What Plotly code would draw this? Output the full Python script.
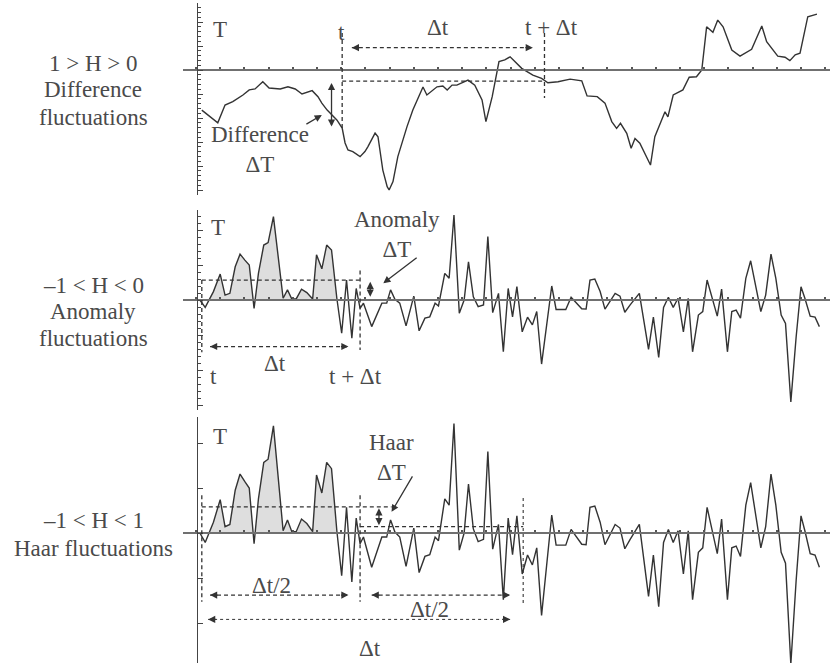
import numpy as np
import plotly.graph_objects as go

# ---------------- data ----------------
# Panel 1: difference fluctuations (time, T)
diff_t = [1.2, 4.5, 6.0, 7.6, 9.7, 11.0, 12.2, 13.8, 15.1, 17.4, 19.0, 20.5, 21.9, 24.0, 25.2,
          26.0, 27.1, 29.1, 30.2, 30.8, 31.4, 32.4, 33.9, 34.9, 35.5, 37.0, 37.6, 38.6, 39.5, 39.9,
          40.7, 41.7, 43.6, 44.8, 46.9, 47.7, 49.8, 51.0, 51.9, 52.9, 53.9, 56.2, 57.6, 59.1, 59.9,
          61.2, 62.6, 63.8, 64.9, 67.3, 69.6, 71.4, 72.7, 74.8, 77.3, 79.7, 80.8, 82.9, 84.5, 85.9,
          86.9, 87.7, 89.0, 89.9, 90.7, 91.7, 93.9, 94.8, 96.9, 97.5, 98.6, 100.6, 101.9, 103.4, 104.5,
          105.5, 106.8, 107.8, 108.9, 110.7, 112.4, 113.8, 114.8, 116.9, 117.9, 120.2, 121.7, 122.7, 123.8, 124.8,
          125.8, 126.4, 128.3]
diff_T = [-1.67, -2.20, -1.46, -1.32, -1.04, -0.83, -0.79, -0.49, -0.75, -0.79, -0.70, -0.79, -1.00, -0.86, -1.11,
          -1.38, -1.67, -2.08, -2.42, -3.04, -3.33, -3.40, -3.61, -3.40, -3.20, -2.63, -2.78, -4.17, -4.86, -5.00,
          -4.65, -3.61, -2.36, -1.67, -0.71, -1.04, -0.70, -0.67, -0.83, -0.63, -0.63, -0.42, -0.63, -1.25, -2.15,
          -1.11, 0.35, 0.42, 0.55, 0.07, -0.21, -0.35, -0.53, -0.49, -0.38, -0.45, -1.08, -1.11, -1.38, -2.15,
          -2.43, -2.22, -2.64, -3.26, -2.85, -3.05, -3.96, -2.78, -1.74, -1.95, -1.04, -0.83, -0.30, -0.28, 0.00,
          1.80, 1.57, 2.08, 1.80, 0.83, 0.58, 0.76, 0.86, 1.83, 1.18, 0.58, 0.53, 0.39, 0.63, 0.70,
          1.74, 2.22, 2.33]

# Panels 2 and 3: anomaly series (same series, drawn at two vertical scales)
anom_t = [0.8, 1.9, 3.6, 5.0, 6.0, 7.0, 8.1, 9.1, 10.1, 11.0, 12.0, 12.9, 14.0, 14.9, 16.0,
          16.8, 18.0, 18.9, 19.8, 20.7, 21.8, 22.9, 24.1, 24.9, 26.0, 27.0, 28.0, 29.1, 30.1, 31.1,
          32.2, 33.1, 33.9, 34.6, 36.3, 38.4, 39.4, 40.2, 41.1, 42.1, 43.4, 45.0, 46.1, 47.3, 48.3,
          49.4, 50.1, 51.4, 52.3, 53.3, 54.4, 55.4, 56.3, 57.3, 58.3, 59.4, 60.3, 61.3, 62.5, 63.5,
          64.5, 65.4, 66.3, 67.4, 68.5, 69.5, 70.4, 71.4, 73.5, 74.4, 76.4, 77.5, 79.7, 80.6, 81.4,
          82.4, 83.5, 84.5, 85.5, 86.6, 87.6, 88.6, 89.7, 91.6, 93.5, 94.5, 95.6, 96.6, 97.6, 98.6,
          99.6, 100.7, 101.7, 102.6, 103.8, 104.7, 105.6, 107.7, 108.6, 109.8, 110.7, 111.6, 112.5, 113.6, 114.6,
          116.7, 117.7, 118.8, 119.8, 120.9, 121.8, 122.9, 124.0, 125.0, 125.8, 126.9, 127.9, 128.8]
anom_T = [0.00, -0.21, 0.24, 0.74, 0.14, 0.19, 0.95, 1.31, 1.14, 1.00, -0.24, 0.76, 1.57, 1.64, 2.38,
          1.43, 0.05, 0.29, 0.03, 0.03, 0.31, 0.21, 0.03, 1.29, 0.89, 1.57, 1.43, 0.05, -0.95, 0.57,
          -1.09, 0.33, -0.24, -0.09, -0.76, -0.09, -0.09, 0.29, 0.02, -0.09, -0.74, 0.11, -0.88, -0.52, -0.48,
          -0.09, -0.17, 0.76, 0.62, 2.43, -0.38, 0.00, 1.09, 0.09, -0.19, -0.14, 1.81, -0.36, 0.19, -1.48,
          0.33, -0.48, 0.38, -0.91, -0.49, -0.71, -0.33, -1.83, 0.40, -0.27, -0.27, 0.08, -0.25, -0.26, 0.57,
          0.60, 0.24, -0.26, -0.05, 0.19, 0.11, -0.35, -0.14, 0.19, -1.41, -0.49, -1.64, -0.21, 0.08, -0.21,
          0.05, -0.91, 0.05, -1.48, -0.43, -0.33, 0.57, -0.46, 0.31, -1.48, -0.33, -0.29, -0.52, 0.62, 1.12,
          -0.33, 0.14, 1.31, 0.62, -0.43, -0.67, -2.91, -1.05, 0.38, 0.05, -0.46, -0.49, -0.76]

# Schematic markers (times and levels)
t_start = 1.2            # t (anomaly / Haar)
t_mid = 33.9             # t + Δt (anomaly), t + Δt/2 (Haar)
t_end_haar = 67.6        # t + Δt (Haar)
diff_t0, diff_t1 = 30.2, 72.0      # t and t + Δt (difference)
diff_level_t1 = -0.46              # T(t + Δt)
anom_mean = 0.57                   # mean over [t, t+Δt]
haar_mean1, haar_mean2 = 0.58, 0.14
shade_end = 29.1

left_labels = [["1 > H > 0", "Difference", "fluctuations"],
               ["–1 < H < 0", "Anomaly", "fluctuations"],
               ["–1 < H < 1", "Haar fluctuations"]]

# ---------------- layout constants ----------------
W, H = 830, 663
X0_PX, YAX_PX, T0_PX, DT_PX = 183, 196.7, 196.0, 4.84
# (zero line px, axis top px, axis bottom px, px per unit T, minor ticks)
PANELS = [(70, 3, 195, 24.0, True), (300, 210, 410, 35.0, True), (533, 417, 663, 45.0, False)]
LINE = "#333333"
TXT = "#4a4a4a"
FONT = dict(family="Liberation Serif, Times New Roman, serif", size=23, color=TXT)
DASH = "4px,3px"

fig = go.Figure()
layout = dict(width=W, height=H, margin=dict(l=0, r=0, t=0, b=0),
              paper_bgcolor="white", plot_bgcolor="white", showlegend=False)

xr = [(X0_PX - T0_PX) / DT_PX, (W - T0_PX) / DT_PX]
for i, (z, top, bot, sc, minor) in enumerate(PANELS):
    sfx = "" if i == 0 else str(i + 1)
    ya = dict(domain=[1 - bot / H, 1 - top / H], range=[(z - bot) / sc, (z - top) / sc],
              anchor="free", position=YAX_PX / W, showline=True, linecolor="#444", linewidth=1.3,
              ticks="inside", ticklen=5, tickwidth=1, tickcolor="#444", dtick=1, tick0=0,
              showticklabels=False, showgrid=False, zeroline=False, fixedrange=True)
    if minor:
        ya["minor"] = dict(ticks="inside", ticklen=3, dtick=0.2, tick0=0, tickcolor="#444", tickwidth=1)
    xa = dict(domain=[X0_PX / W, 1], range=xr, anchor="free", position=1 - z / H,
              showline=True, linecolor="#707070", linewidth=1.6, ticks="inside", ticklen=2,
              tickwidth=1.5, tickcolor="#555", dtick=5, tick0=0, showticklabels=False,
              showgrid=False, zeroline=False, fixedrange=True)
    layout["xaxis" + sfx] = xa
    layout["yaxis" + sfx] = ya


def positive_part(t, v, t_stop):
    xs, ys = [], []
    for i in range(len(t) - 1):
        if t[i] > t_stop:
            break
        x0, y0, x1, y1 = t[i], v[i], t[i + 1], v[i + 1]
        xs.append(x0)
        ys.append(max(y0, 0.0))
        if (y0 > 0) != (y1 > 0) and y0 != y1:
            xs.append(x0 + (0 - y0) * (x1 - x0) / (y1 - y0))
            ys.append(0.0)
    return xs, ys


fx, fy = positive_part(anom_t, anom_T, shade_end)

# traces
fig.add_trace(go.Scatter(x=diff_t, y=diff_T, mode="lines", line=dict(color=LINE, width=1.4),
                         xaxis="x", yaxis="y", hoverinfo="skip"))
for k in (2, 3):
    fig.add_trace(go.Scatter(x=fx, y=fy, mode="lines", line=dict(width=0), fill="tozeroy",
                             fillcolor="#dedede", xaxis=f"x{k}", yaxis=f"y{k}", hoverinfo="skip"))
    fig.add_trace(go.Scatter(x=anom_t, y=anom_T, mode="lines", line=dict(color=LINE, width=1.4),
                             xaxis=f"x{k}", yaxis=f"y{k}", hoverinfo="skip"))

shapes, annots = [], []


def dline(ax, x0, y0, x1, y1, dash=DASH, width=1.3):
    s = "" if ax == 1 else str(ax)
    shapes.append(dict(type="line", xref="x" + s, yref="y" + s, x0=x0, y0=y0, x1=x1, y1=y1,
                       line=dict(color=LINE, width=width, dash=dash)))


def text(ax, x, y, s):
    a = "" if ax == 1 else str(ax)
    annots.append(dict(xref="x" + a, yref="y" + a, x=x, y=y, text=s, showarrow=False,
                       font=FONT, xanchor="center", yanchor="middle"))


def head(ax, x, y, direction):
    a = "" if ax == 1 else str(ax)
    annots.append(dict(xref="x" + a, yref="y" + a, x=x, y=y, text="", showarrow=True,
                       ax=-9 * direction, ay=0, arrowhead=2, arrowsize=1.1, arrowwidth=1.3,
                       arrowcolor=LINE, standoff=0))


def arrow(ax, x, y, xt, yt, both=False):
    a = "" if ax == 1 else str(ax)
    annots.append(dict(xref="x" + a, yref="y" + a, x=x, y=y, ax=xt, ay=yt, axref="x" + a,
                       ayref="y" + a, text="", showarrow=True, arrowhead=2, arrowsize=1.1,
                       arrowwidth=1.3, arrowcolor=LINE, standoff=0,
                       arrowside="end+start" if both else "end"))


def darrow(ax, x0, x1, y, dash=DASH, width=1.3):
    dline(ax, x0, y, x1, y, dash, width)
    head(ax, x0, y, -1)
    head(ax, x1, y, 1)


# ---- panel 1 ----
text(1, 5.0, 1.67, "T")
text(1, 30.1, 1.58, "t")
text(1, 50.0, 1.79, "Δt")
text(1, 73.5, 1.75, "t + Δt")
dline(1, diff_t0, 1.54, diff_t0, -2.42)
dline(1, diff_t1, 1.54, diff_t1, -1.17)
dline(1, diff_t0, diff_level_t1, diff_t1, diff_level_t1)
darrow(1, 32.2, 69.6, 0.93)
arrow(1, 28.0, diff_level_t1 - 0.08, 28.0, -2.42, both=True)
text(1, 13.2, -3.33, "Difference<br>ΔT")
arrow(1, 26.0, -1.88, 22.5, -2.29)

# ---- panel 2 ----
text(2, 4.6, 2.06, "T")
dline(2, t_start, anom_mean, t_mid, anom_mean)
dline(2, t_start, anom_mean, t_start, -1.49)
dline(2, t_mid, 0.84, t_mid, -1.43)
darrow(2, 2.9, 31.5, -1.33)
text(2, 16.3, -1.80, "Δt")
text(2, 3.6, -2.19, "t")
text(2, 32.9, -2.19, "t + Δt")
arrow(2, 36.0, anom_mean - 0.05, 36.0, 0.05, both=True)
text(2, 41.6, 1.86, "Anomaly<br>ΔT")
arrow(2, 38.7, 0.48, 45.9, 1.24)

# ---- panel 3 ----
text(3, 5.0, 2.14, "T")
dline(3, t_start, haar_mean1, 40.4, haar_mean1)
dline(3, t_mid, haar_mean2, t_end_haar, haar_mean2)
dline(3, t_start, 0.84, t_start, -1.53)
dline(3, t_mid, 0.84, t_mid, -1.53)
dline(3, t_end_haar, 0.78, t_end_haar, -1.60, dash="3px,3px", width=1.1)
arrow(3, 37.8, haar_mean1 - 0.03, 37.8, haar_mean2, both=True)
text(3, 40.3, 1.67, "Haar<br>ΔT")
arrow(3, 40.4, 0.47, 44.9, 1.29)
darrow(3, 2.9, 31.5, -1.38)
text(3, 15.6, -1.16, "Δt/2")
darrow(3, 36.3, 64.9, -1.38)
text(3, 48.3, -1.71, "Δt/2")
darrow(3, 2.5, 64.9, -1.92, dash="3px,3px", width=1.0)
text(3, 36.0, -2.56, "Δt")

# ---- left labels ----
label_rows = [[63, 90, 117], [285, 311.7, 338], [520, 548]]
for lines, rows in zip(left_labels, label_rows):
    for s, py in zip(lines, rows):
        annots.append(dict(xref="paper", yref="paper", x=93 / W, y=1 - py / H, text=s,
                           showarrow=False, font=FONT, xanchor="center", yanchor="middle"))

layout["shapes"] = shapes
layout["annotations"] = annots
fig.update_layout(**layout)
fig.write_html("out.html")
